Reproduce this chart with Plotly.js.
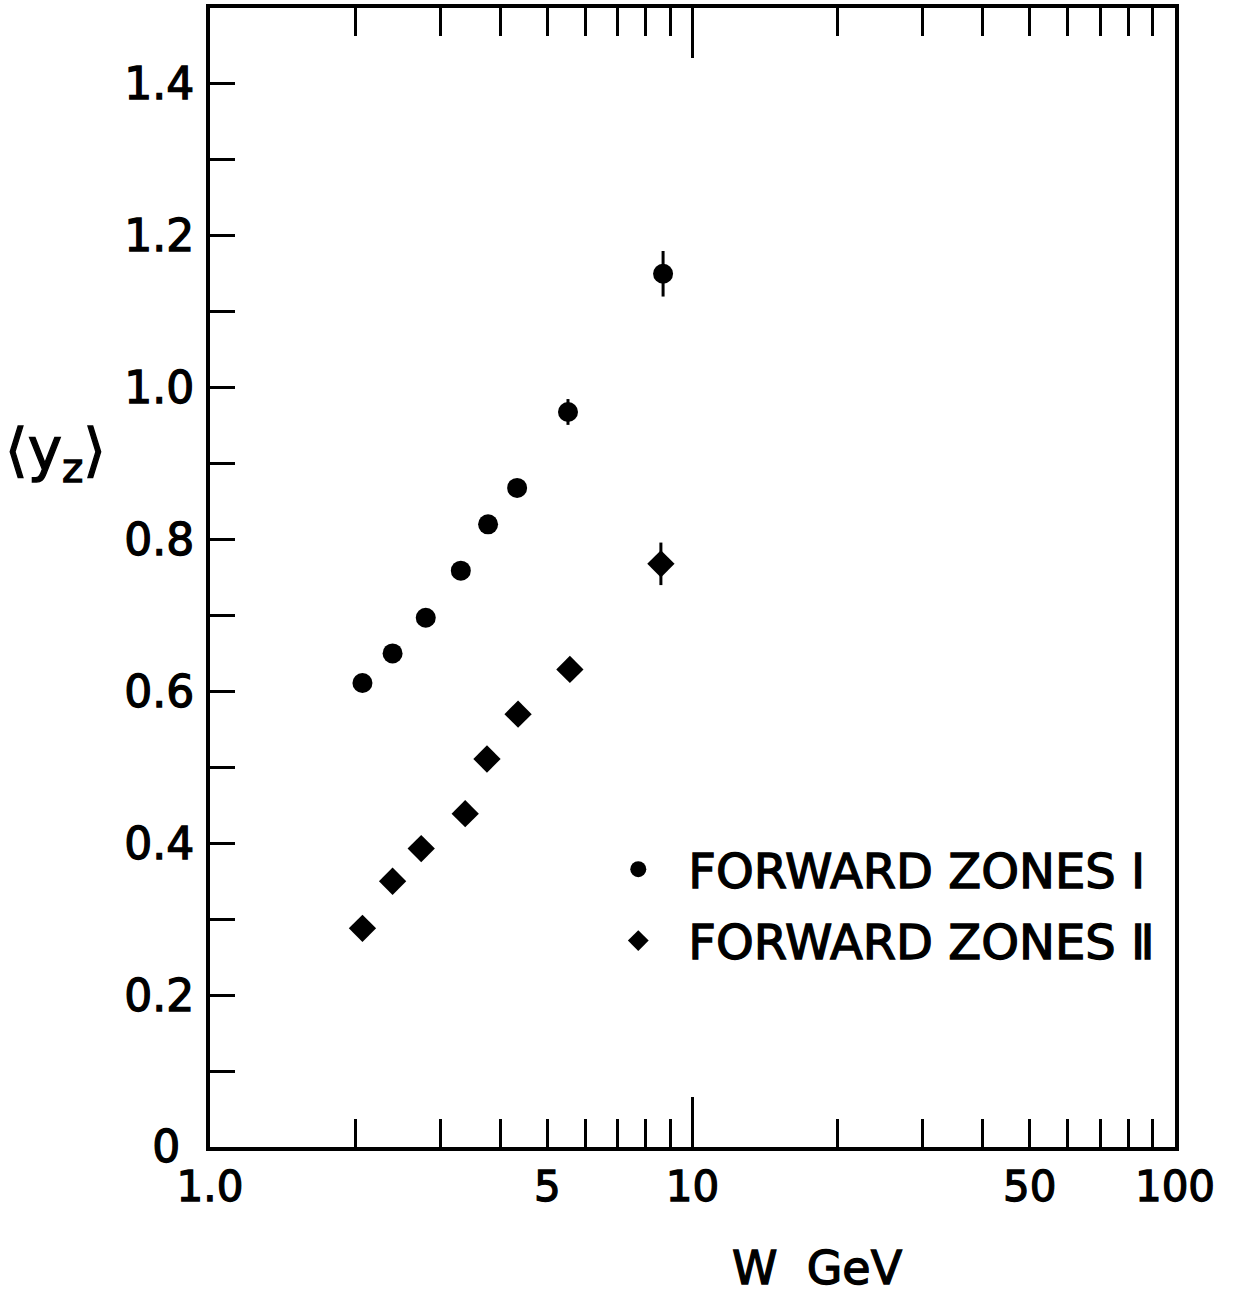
<!DOCTYPE html>
<html>
<head>
<meta charset="utf-8">
<script src="https://cdn.plot.ly/plotly-3.0.1.min.js"></script>
<style>
html,body{margin:0;padding:0;background:#fff;}
#chart{width:1239px;height:1300px;}
#chart .xtick text, #chart .ytick text, #chart .legendtext, #chart .annotation-text {stroke:#000; stroke-width:1.3px;}
</style>
</head>
<body>
<div id="chart"></div>
<script>
// ---- data ----
const zonesI_W   = [2.07, 2.39, 2.80, 3.31, 3.77, 4.33, 5.52, 8.69];
const zonesI_y   = [0.611, 0.650, 0.697, 0.759, 0.820, 0.868, 0.968, 1.150];
const zonesI_err = [0, 0, 0, 0, 0, 0, 0.017, 0.030];

const zonesII_W   = [2.07, 2.39, 2.74, 3.38, 3.75, 4.35, 5.57, 8.60];
const zonesII_y   = [0.288, 0.350, 0.393, 0.439, 0.511, 0.570, 0.629, 0.768];
const zonesII_err = [0, 0, 0, 0, 0, 0, 0, 0.028];

const xTickVals = [1,2,3,4,5,6,7,8,9,10,20,30,40,50,60,70,80,90,100];
const xTickText = ["1.0","","","","5","","","","","10","","","","50","","","","","100"];
const xLongTick = [10];
const yTickVals = [0,0.1,0.2,0.3,0.4,0.5,0.6,0.7,0.8,0.9,1.0,1.1,1.2,1.3,1.4];
const yTickText = ["0\u00a0","","0.2","","0.4","","0.6","","0.8","","1.0","","1.2","","1.4"];
const seriesNames = ["FORWARD ZONES Ⅰ", "FORWARD ZONES Ⅱ"];

const FONT = "DejaVu Sans";

const traces = [
  {
    x: zonesI_W, y: zonesI_y, name: seriesNames[0], type: "scatter", mode: "markers",
    xaxis: "x2", yaxis: "y",
    marker: {symbol: "circle", size: 20, color: "#000"},
    error_y: {type: "data", array: zonesI_err, visible: true, color: "#000", thickness: 3, width: 0},
    legendgroup: "a"
  },
  {
    x: zonesII_W, y: zonesII_y, name: seriesNames[1], type: "scatter", mode: "markers",
    marker: {symbol: "diamond", size: 21, color: "#000"},
    error_y: {type: "data", array: zonesII_err, visible: true, color: "#000", thickness: 3, width: 0},
    legendgroup: "b"
  }
];

const layout = {
  width: 1239, height: 1300,
  margin: {l: 210, r: 64, t: 8, b: 153},
  paper_bgcolor: "#fff", plot_bgcolor: "#fff",
  font: {family: FONT, color: "#000", size: 44},
  showlegend: true,
  legend: {
    x: 0.392, y: 0.277, xanchor: "left", yanchor: "top",
    font: {family: FONT, size: 48, color: "#000"},
    bgcolor: "rgba(0,0,0,0)", tracegroupgap: 6, traceorder: "grouped", itemwidth: 90
  },
  xaxis: {
    type: "log", range: [0, 2],
    tickmode: "array", tickvals: xTickVals, ticktext: xTickText,
    ticks: "inside", ticklen: 28, tickwidth: 3, tickcolor: "#000",
    showline: true, linewidth: 4, linecolor: "#000", mirror: "ticks",
    showgrid: false, zeroline: false, ticklabelstandoff: 0,
    tickfont: {family: FONT, size: 42, color: "#000"}
  },
  xaxis2: {
    type: "log", range: [0, 2], overlaying: "x", anchor: "y", side: "bottom",
    tickmode: "array", tickvals: xLongTick, ticks: "inside", ticklen: 50, tickwidth: 3, tickcolor: "#000",
    showticklabels: false, showline: false, mirror: "ticks", showgrid: false, zeroline: false
  },
  yaxis: {
    range: [0, 1.5],
    tickmode: "array", tickvals: yTickVals, ticktext: yTickText,
    ticks: "inside", ticklen: 25, tickwidth: 3, tickcolor: "#000",
    showline: true, linewidth: 4, linecolor: "#000", mirror: true,
    showgrid: false, zeroline: false, ticklabelstandoff: 3,
    tickfont: {family: FONT, size: 44, color: "#000"}
  },
  annotations: [
    {text: "⟨y<sub>z</sub>⟩", xref: "paper", yref: "paper", x: -0.214, y: 0.608,
     xanchor: "left", yanchor: "middle", showarrow: false, font: {family: FONT, size: 58, color: "#000"}},
    {text: "W  GeV", xref: "paper", yref: "paper", x: 0.630, y: -0.132,
     xanchor: "center", yanchor: "bottom", showarrow: false, font: {family: FONT, size: 46, color: "#000"}}
  ]
};

Plotly.newPlot("chart", traces, layout, {displayModeBar: false, staticPlot: true});
</script>
</body>
</html>
